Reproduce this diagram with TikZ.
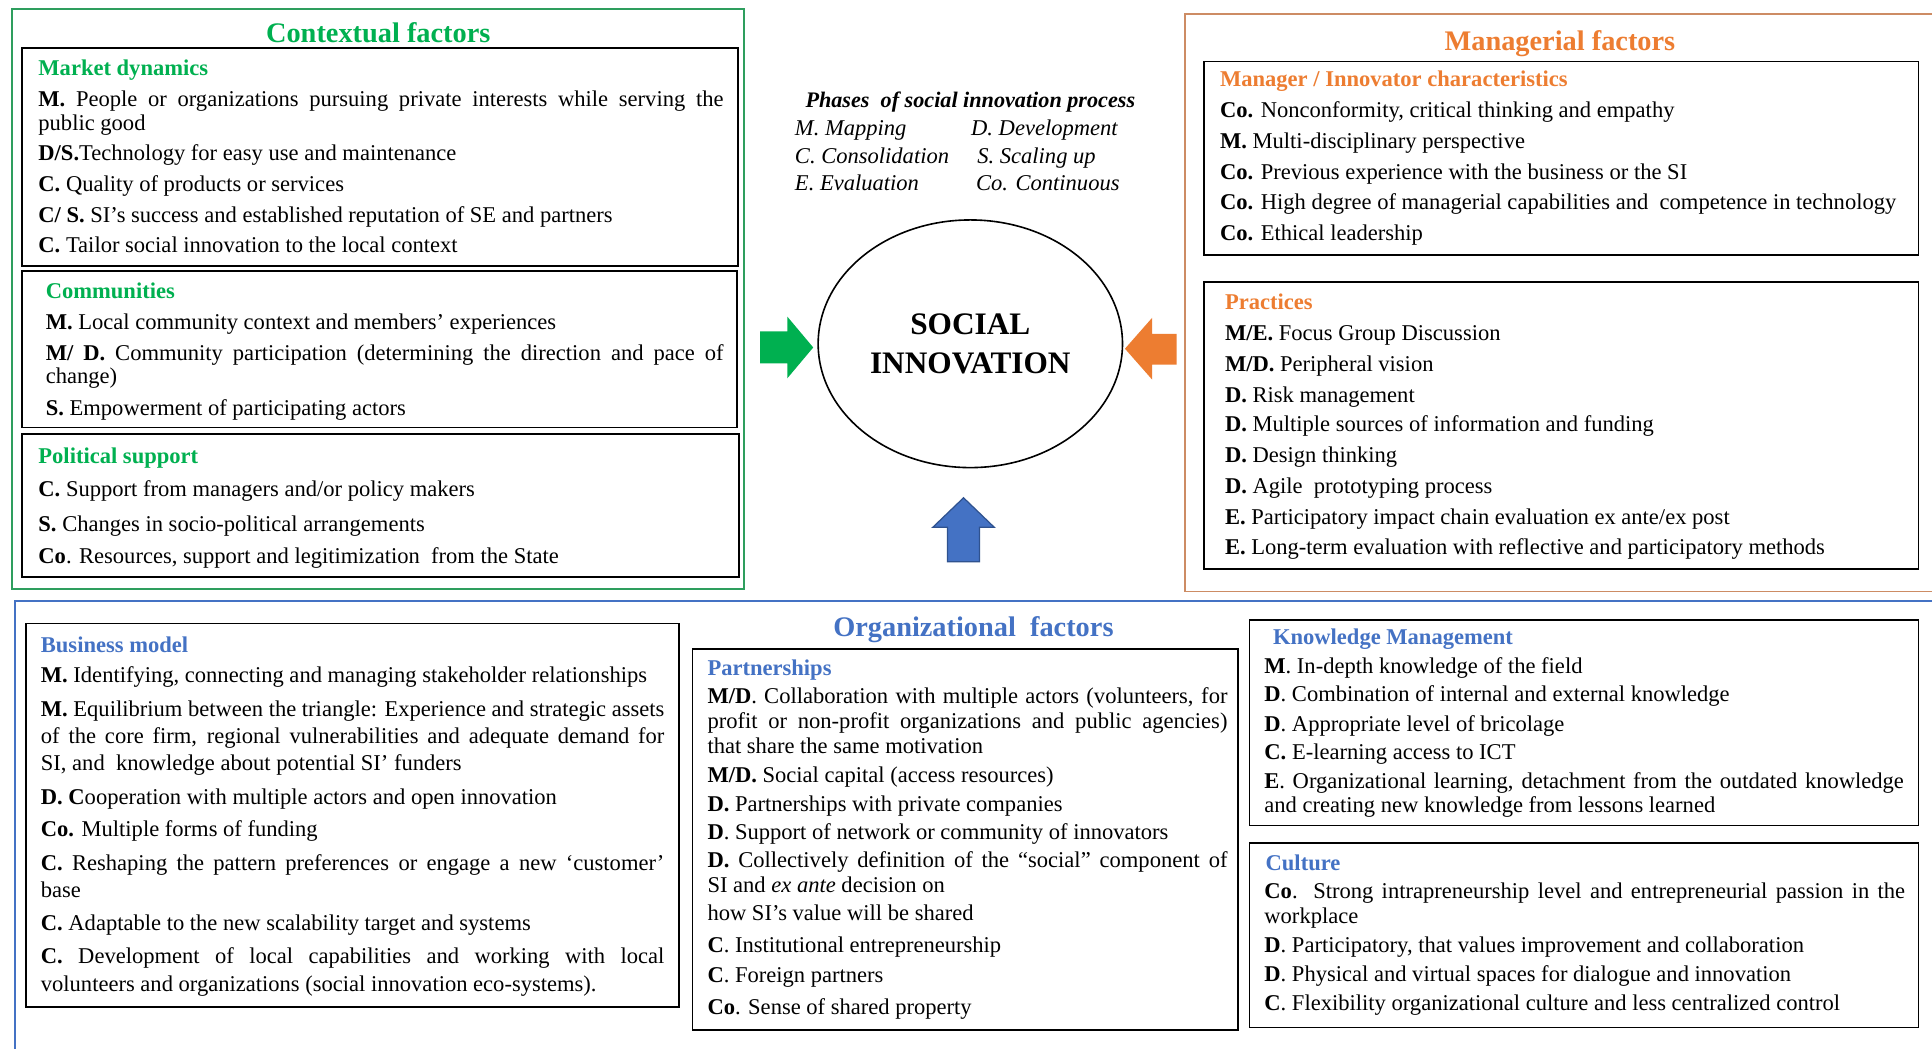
\documentclass[tikz,border=0pt]{standalone}
\usepackage{fontspec}
\setmainfont{Liberation Serif}
\usetikzlibrary{shapes.geometric}
\definecolor{cgreen}{RGB}{0,176,80}
\definecolor{cgreenb}{RGB}{46,158,94}
\definecolor{corange}{RGB}{237,125,49}
\definecolor{corangeb}{RGB}{205,140,100}
\definecolor{cblue}{RGB}{68,114,196}
\definecolor{cblued}{RGB}{47,82,143}
\newcommand\bodyfont{\fontsize{18.3}{21}\selectfont}
\newcommand\Bf[1]{\textbf{#1}}
\newcommand\TL[4]{\node[txt] (#1) at (#2,#3) {#4};}
\newcommand\TJ[5]{\node[txt] (#1) at (#2,#3) {\makebox[#4pt][s]{#5}};}
\begin{document}
\begin{tikzpicture}[x=1pt,y=-1pt,
  txt/.style={anchor=mid west,inner sep=0pt,yshift=-4pt,font=\bodyfont},
  head/.style={txt,font=\bodyfont\bfseries},
  title/.style={anchor=mid,inner sep=0pt,yshift=-5.5pt,font=\fontsize{23}{26}\selectfont\bfseries},
  blkbox/.style={draw=black,line width=1.4pt},
  ital/.style={txt,font=\fontsize{18}{21}\selectfont\itshape}]
\useasboundingbox (0,0) rectangle (1568,851);
\fill[white] (0,0) rectangle (1568,851);

% ---------- outer frames ----------
\draw[cgreenb,line width=1.5pt] (10,7) rectangle (604,478);
\draw[corangeb,line width=1.5pt] (1568,11.5) -- (962,11.5) -- (962,480) -- (1568,480);
\draw[cblue,line width=1.8pt] (1568,488) -- (12,488) -- (12,851);

% ---------- titles ----------
\node[title,text=cgreen] (tctx) at (307,27) {Contextual factors};
\node[title,text=corange] (tman) at (1266,33) {Managerial factors};
\node[title,text=cblue] (torg) at (790,509) {Organizational\ \ factors};

% ---------- inner boxes ----------
\draw[blkbox] (18,39) rectangle (599,216);
\draw[blkbox] (18,220) rectangle (598,347);
\draw[blkbox] (18,352) rectangle (600,468);
\draw[blkbox] (977,50) rectangle (1557,207);
\draw[blkbox] (977,229) rectangle (1557,462);
\draw[blkbox] (21,506) rectangle (551,817);
\draw[blkbox] (562,527) rectangle (1005,836);
\draw[blkbox] (1014,503) rectangle (1557,670);
\draw[blkbox] (1014,684) rectangle (1557,834);

% ---------- Market dynamics ----------
\node[head,text=cgreen] (hmd) at (31,55) {Market dynamics};
\TJ{md1}{31}{80}{556}{\Bf{M.} People or organizations pursuing private interests while serving the}
\TL{md2}{31}{100}{public good}
\TL{md3}{31}{124}{\Bf{D/S.}Technology for easy use and maintenance}
\TL{md4}{31}{149}{\Bf{C.} Quality of products or services}
\TL{md5}{31}{174}{\Bf{C/ S.} SI's success and established reputation of SE and partners}
\TL{md6}{31}{199}{\Bf{C.} Tailor social innovation to the local context}

% ---------- Communities ----------
\node[head,text=cgreen] (hcm) at (37,236) {Communities};
\TL{cm1}{37}{261}{\Bf{M.} Local community context and members’ experiences}
\TJ{cm2}{37}{286}{550}{\Bf{M/ D.} Community participation (determining the direction and pace of}
\TL{cm3}{37}{305}{change)}
\TL{cm4}{37}{331}{\Bf{S.} Empowerment of participating actors}

% ---------- Political support ----------
\node[head,text=cgreen] (hps) at (31,370) {Political support};
\TL{ps1}{31}{397}{\Bf{C.} Support from managers and/or policy makers}
\TL{ps2}{31}{425}{\Bf{S.} Changes in socio-political arrangements}
\TL{ps3}{31}{451}{\Bf{Co}. Resources, support and legitimization\ \ from the State}

% ---------- Phases ----------
\node[anchor=mid,inner sep=0pt,yshift=-4pt,font=\fontsize{18}{21}\selectfont\bfseries\itshape] (phz) at (787.5,81) {Phases\ \ of social innovation process};
\TL{ph1}{645}{104}{\itshape M. Mapping}
\TL{ph2}{788}{104}{\itshape D. Development}
\TL{ph3}{645}{126}{\itshape C. Consolidation}
\TL{ph4}{793}{126}{\itshape S. Scaling up}
\TL{ph5}{645}{148}{\itshape E. Evaluation}
\TL{ph6}{792}{148}{\itshape Co. Continuous}

% ---------- centre ----------
\node[draw=black,line width=1.3pt,ellipse,minimum width=247pt,minimum height=201pt,inner sep=0pt,
      align=center,font=\fontsize{25.4}{32}\selectfont\bfseries] (si) at (787.5,279) {\raisebox{-1.5pt}{SOCIAL}\\\raisebox{-1.5pt}{INNOVATION}};
\fill[cgreen] (617,269) -- (639,269) -- (639,257) -- (660,282) -- (639,307) -- (639,295) -- (617,295) -- cycle;
\fill[corange] (955,271) -- (935,271) -- (935,258) -- (913,283) -- (935,308) -- (935,296) -- (955,296) -- cycle;
\filldraw[fill=cblue,draw=cblued,line width=1pt] (769,456) -- (769,428) -- (757,428) -- (782,404) -- (807,428) -- (795,428) -- (795,456) -- cycle;

% ---------- Manager / Innovator ----------
\node[head,text=corange] (hmi) at (990,64) {Manager / Innovator characteristics};
\TL{mi1}{990}{89}{\Bf{Co.} Nonconformity, critical thinking and empathy}
\TL{mi2}{990}{114}{\Bf{M.} Multi-disciplinary perspective}
\TL{mi3}{990}{139}{\Bf{Co.} Previous experience with the business or the SI}
\TL{mi4}{990}{164}{\Bf{Co.} High degree of managerial capabilities and\ \ competence in technology}
\TL{mi5}{990}{189}{\Bf{Co.} Ethical leadership}

% ---------- Practices ----------
\node[head,text=corange] (hpr) at (994,245) {Practices};
\TL{pr1}{994}{270}{\Bf{M/E.} Focus Group Discussion}
\TL{pr2}{994}{295}{\Bf{M/D.} Peripheral vision}
\TL{pr3}{994}{320}{\Bf{D.} Risk management}
\TL{pr4}{994}{344}{\Bf{D.} Multiple sources of information and funding}
\TL{pr5}{994}{369}{\Bf{D.} Design thinking}
\TL{pr6}{994}{394}{\Bf{D.} Agile\ \ prototyping process}
\TL{pr7}{994}{419}{\Bf{E.} Participatory impact chain evaluation ex ante/ex post}
\TL{pr8}{994}{444}{\Bf{E.} Long-term evaluation with reflective and participatory methods}

% ---------- Business model ----------
\node[head,text=cblue] (hbm) at (33,523) {Business model};
\TL{bm1}{33}{548}{\Bf{M.} Identifying, connecting and managing stakeholder relationships}
\TJ{bm2}{33}{575}{506}{\Bf{M.} Equilibrium between the triangle: Experience and strategic assets}
\TJ{bm3}{33}{597}{506}{of the core firm, regional vulnerabilities and adequate demand for}
\TL{bm4}{33}{619}{SI, and\ \ knowledge about potential SI' funders}
\TL{bm5}{33}{647}{\Bf{D. C}ooperation with multiple actors and open innovation}
\TL{bm6}{33}{673}{\Bf{Co.} Multiple forms of funding}
\TJ{bm7}{33}{700}{506}{\Bf{C.} Reshaping the pattern preferences or engage a new ‘customer’}
\TL{bm8}{33}{722}{base}
\TL{bm9}{33}{749}{\Bf{C.} Adaptable to the new scalability target and systems}
\TJ{bm10}{33}{776}{506}{\Bf{C.} Development of local capabilities and working with local}
\TL{bm11}{33}{798}{volunteers and organizations (social innovation eco-systems).}

% ---------- Partnerships ----------
\node[head,text=cblue] (hpa) at (574,542) {Partnerships};
\TJ{pa1}{574}{565}{422}{\Bf{M/D}. Collaboration with multiple actors (volunteers, for}
\TJ{pa2}{574}{585}{422}{profit or non-profit organizations and public agencies)}
\TL{pa3}{574}{605}{that share the same motivation}
\TL{pa4}{574}{629}{\Bf{M/D.} Social capital (access resources)}
\TL{pa5}{574}{652}{\Bf{D.} Partnerships with private companies}
\TL{pa6}{574}{675}{\Bf{D}. Support of network or community of innovators}
\TJ{pa7}{574}{698}{422}{\Bf{D.} Collectively definition of the “social” component of}
\TL{pa8}{574}{718}{SI and \textit{ex ante} decision on}
\TL{pa9}{574}{741}{how SI’s value will be shared}
\TL{pa10}{574}{767}{\Bf{C}. Institutional entrepreneurship}
\TL{pa11}{574}{791}{\Bf{C}. Foreign partners}
\TL{pa12}{574}{817}{\Bf{Co}. Sense of shared property}

% ---------- Knowledge Management ----------
\node[head,text=cblue] (hkm) at (1033,517) {Knowledge Management};
\TL{km1}{1026}{540}{\Bf{M}. In-depth knowledge of the field}
\TL{km2}{1026}{563}{\Bf{D}. Combination of internal and external knowledge}
\TL{km3}{1026}{587}{\Bf{D}. Appropriate level of bricolage}
\TL{km4}{1026}{610}{\Bf{C.} E-learning access to ICT}
\TJ{km5}{1026}{634}{519}{\Bf{E}. Organizational learning, detachment from the outdated knowledge}
\TL{km6}{1026}{653}{and creating new knowledge from lessons learned}

% ---------- Culture ----------
\node[head,text=cblue] (hcu) at (1027,700) {Culture};
\TJ{cu1}{1026}{723}{520}{\Bf{Co}. Strong intrapreneurship level and entrepreneurial passion in the}
\TL{cu2}{1026}{743}{workplace}
\TL{cu3}{1026}{767}{\Bf{D}. Participatory, that values improvement and collaboration}
\TL{cu4}{1026}{790}{\Bf{D}. Physical and virtual spaces for dialogue and innovation}
\TL{cu5}{1026}{814}{\Bf{C}. Flexibility organizational culture and less centralized control}
\end{tikzpicture}
\end{document}
